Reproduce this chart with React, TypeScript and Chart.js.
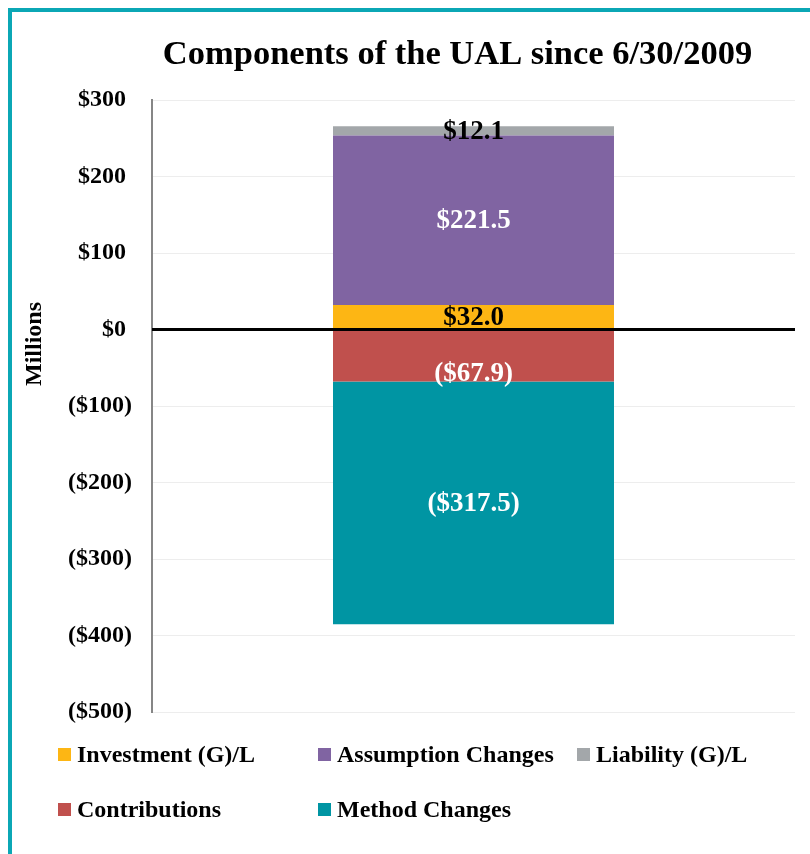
import React, { useEffect, useRef } from "react";
import { Chart, registerables } from "chart.js";

Chart.register(...registerables);

const categories = ["Since 6/30/2009"];
const seriesNames = ["Investment (G)/L", "Assumption Changes", "Liability (G)/L", "Contributions", "Method Changes"];
const seriesValues = [32.0, 221.5, 12.1, -67.9, -317.5];
const seriesColors = ["#FDB614", "#8064A2", "#A3A7AA", "#C0504D", "#0095A3"];
const labelColors = ["#000000", "#FFFFFF", "#000000", "#FFFFFF", "#FFFFFF"];
const yMin = -500;
const yMax = 300;
const yStep = 100;
const titleText = "Components of the UAL since 6/30/2009";
const yAxisTitle = "Millions";

const FONT = '"Liberation Serif", "Times New Roman", serif';

const fmtTick = (v: number) => (v >= 0 ? `$${v}\u2008` : `($${-v})`);
const fmtLabel = (v: number) => (v >= 0 ? `$${v.toFixed(1)}` : `($${(-v).toFixed(1)})`);

const decorPlugin = {
  id: "decor",
  afterDatasetsDraw(chart: any) {
    const ctx = chart.ctx;
    const area = chart.chartArea;
    const y = chart.scales.y;
    // zero line
    const y0 = y.getPixelForValue(0);
    ctx.save();
    ctx.strokeStyle = "#000000";
    ctx.lineWidth = 3;
    ctx.beginPath();
    ctx.moveTo(area.left, y0);
    ctx.lineTo(area.right, y0);
    ctx.stroke();
    // data labels
    ctx.font = `bold 27px ${FONT}`;
    ctx.textAlign = "center";
    ctx.textBaseline = "middle";
    chart.data.datasets.forEach((ds: any, i: number) => {
      const meta = chart.getDatasetMeta(i);
      const el = meta.data[0];
      if (!el) return;
      const v = ds.data[0];
      let cy = (el.y + el.base) / 2;
      if (i === 3) cy += 17;
      ctx.fillStyle = labelColors[i];
      ctx.fillText(fmtLabel(v), el.x, cy + 1);
    });
    ctx.restore();
  },
  afterDraw(chart: any) {
    const ctx = chart.ctx;
    ctx.save();
    // title
    ctx.fillStyle = "#000000";
    ctx.font = `bold 34.5px ${FONT}`;
    ctx.textAlign = "center";
    ctx.textBaseline = "alphabetic";
    ctx.fillText(titleText, 445.5, 52);
    // y axis title
    ctx.font = `bold 24px ${FONT}`;
    ctx.translate(23, 332);
    ctx.rotate(-Math.PI / 2);
    ctx.textBaseline = "middle";
    ctx.fillText(yAxisTitle, 0, 0);
    ctx.restore();
    // legend
    ctx.save();
    ctx.font = `bold 24px ${FONT}`;
    ctx.textAlign = "left";
    ctx.textBaseline = "middle";
    const cols = [46, 306, 565];
    const rows = [742, 797];
    chart.data.datasets.forEach((ds: any, i: number) => {
      const cx = cols[i % 3];
      const cy = rows[Math.floor(i / 3)];
      ctx.fillStyle = ds.backgroundColor;
      ctx.fillRect(cx, cy - 6, 13, 13);
      ctx.fillStyle = "#000000";
      ctx.fillText(ds.label, cx + 19, cy + 2);
    });
    ctx.restore();
  },
};

export default function App() {
  const ref = useRef<HTMLCanvasElement | null>(null);
  useEffect(() => {
    if (!ref.current) return;
    const chart = new Chart(ref.current, {
      type: "bar",
      data: {
        labels: categories,
        datasets: seriesNames.map((name, i) => ({
          label: name,
          data: [seriesValues[i]],
          backgroundColor: seriesColors[i],
          borderWidth: 0,
          categoryPercentage: 1,
          barPercentage: 0.437,
        })),
      },
      options: {
        animation: false,
        responsive: false,
        maintainAspectRatio: false,
        layout: { padding: { top: 88, right: 15, bottom: 142, left: 0 } },
        plugins: { legend: { display: false }, title: { display: false }, tooltip: { enabled: false } },
        scales: {
          x: { stacked: true, display: false },
          y: {
            stacked: true,
            min: yMin,
            max: yMax,
            afterFit: (s: any) => {
              s.width = 140;
            },
            ticks: {
              stepSize: yStep,
              padding: 20,
              color: "#000000",
              font: { family: FONT, size: 24, weight: "bold" },
              callback: (v: any) => fmtTick(Number(v)),
            },
            grid: {
              drawTicks: false,
              color: (c: any) => (c.tick && c.tick.value === 0 ? "rgba(0,0,0,0)" : "#EDEDED"),
              lineWidth: 1,
            },
            border: { color: "#868686", width: 2 },
          },
        },
      },
      plugins: [decorPlugin],
    });
    return () => chart.destroy();
  }, []);
  return (
    <div
      style={{
        position: "fixed",
        left: 8,
        top: 8,
        width: 806,
        height: 850,
        borderLeft: "4px solid #0BA7B5",
        borderTop: "4px solid #0BA7B5",
        boxSizing: "border-box",
        background: "#FFFFFF",
        overflow: "hidden",
      }}
    >
      <canvas ref={ref} width={798} height={842} style={{ display: "block", width: 798, height: 842 }} />
    </div>
  );
}
